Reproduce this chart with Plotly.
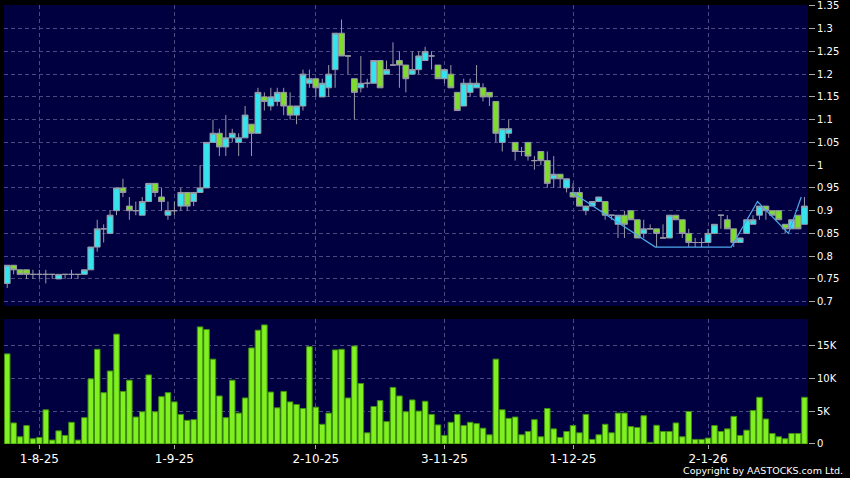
import pandas as pd
import plotly.graph_objects as go

# ---------------- data ----------------
holidays = ["2025-10-01", "2025-10-07", "2025-10-29", "2025-12-25", "2025-12-26", "2026-01-01"]
all_days = pd.bdate_range("2025-07-25", "2026-01-23")
dates = [d.strftime("%Y-%m-%d") for d in all_days if d.strftime("%Y-%m-%d") not in holidays]
idx = list(range(len(dates)))

opens = [0.74, 0.78, 0.77, 0.77, 0.76, 0.76, 0.76, 0.76, 0.75, 0.76,
         0.76, 0.76, 0.76, 0.77, 0.82, 0.86, 0.85, 0.90, 0.95, 0.91,
         0.90, 0.89, 0.92, 0.96, 0.93, 0.89, 0.90, 0.91, 0.94, 0.92,
         0.94, 0.95, 1.05, 1.07, 1.04, 1.06, 1.05, 1.06, 1.09, 1.07,
         1.15, 1.13, 1.14, 1.16, 1.13, 1.11, 1.13, 1.18, 1.19, 1.15,
         1.17, 1.21, 1.29, 1.24, 1.19, 1.17, 1.18, 1.18, 1.23, 1.20,
         1.22, 1.23, 1.22, 1.20, 1.21, 1.23, 1.24, 1.22, 1.19, 1.20,
         1.16, 1.13, 1.16, 1.17, 1.17, 1.16, 1.14, 1.05, 1.07, 1.05,
         1.03, 1.05, 1.01, 1.03, 1.01, 0.97, 0.98, 0.95, 0.94, 0.94,
         0.90, 0.91, 0.92, 0.92, 0.89, 0.87, 0.89, 0.90, 0.88, 0.85,
         0.86, 0.86, 0.84, 0.84, 0.89, 0.88, 0.85, 0.83, 0.83, 0.83,
         0.85, 0.89, 0.88, 0.86, 0.83, 0.85, 0.87, 0.89, 0.91, 0.90,
         0.90, 0.87, 0.86, 0.89, 0.87]
highs = [0.78, 0.78, 0.77, 0.77, 0.77, 0.77, 0.77, 0.76, 0.76, 0.76,
         0.77, 0.76, 0.77, 0.82, 0.88, 0.87, 0.90, 0.95, 0.97, 0.93,
         0.92, 0.93, 0.96, 0.96, 0.95, 0.92, 0.92, 0.95, 0.94, 0.94,
         1.00, 1.05, 1.10, 1.08, 1.11, 1.08, 1.07, 1.13, 1.09, 1.17,
         1.16, 1.17, 1.17, 1.17, 1.16, 1.13, 1.21, 1.21, 1.19, 1.19,
         1.22, 1.29, 1.32, 1.24, 1.19, 1.24, 1.19, 1.23, 1.23, 1.23,
         1.27, 1.25, 1.22, 1.25, 1.25, 1.26, 1.25, 1.22, 1.21, 1.22,
         1.16, 1.19, 1.19, 1.22, 1.18, 1.16, 1.14, 1.08, 1.10, 1.05,
         1.04, 1.05, 1.02, 1.03, 1.03, 1.02, 0.98, 0.97, 0.96, 0.95,
         0.91, 0.92, 0.93, 0.92, 0.89, 0.89, 0.90, 0.90, 0.88, 0.88,
         0.87, 0.86, 0.87, 0.89, 0.89, 0.88, 0.86, 0.84, 0.84, 0.86,
         0.87, 0.89, 0.89, 0.86, 0.84, 0.88, 0.89, 0.91, 0.91, 0.90,
         0.90, 0.87, 0.88, 0.89, 0.93]
lows = [0.73, 0.76, 0.76, 0.75, 0.75, 0.75, 0.74, 0.75, 0.75, 0.75,
        0.75, 0.75, 0.76, 0.77, 0.81, 0.83, 0.85, 0.89, 0.93, 0.88,
        0.89, 0.89, 0.92, 0.93, 0.90, 0.88, 0.89, 0.90, 0.90, 0.91,
        0.94, 0.95, 1.05, 1.02, 1.02, 1.05, 1.02, 1.06, 1.02, 1.07,
        1.12, 1.12, 1.13, 1.11, 1.10, 1.09, 1.12, 1.17, 1.15, 1.15,
        1.15, 1.17, 1.24, 1.20, 1.10, 1.16, 1.17, 1.18, 1.17, 1.20,
        1.22, 1.17, 1.16, 1.20, 1.20, 1.23, 1.21, 1.19, 1.18, 1.17,
        1.12, 1.13, 1.15, 1.17, 1.14, 1.13, 1.05, 1.03, 1.06, 1.01,
        1.02, 1.01, 0.99, 1.00, 0.95, 0.95, 0.95, 0.94, 0.93, 0.91,
        0.89, 0.91, 0.92, 0.88, 0.88, 0.84, 0.84, 0.88, 0.84, 0.84,
        0.86, 0.82, 0.84, 0.84, 0.88, 0.84, 0.82, 0.82, 0.82, 0.83,
        0.85, 0.86, 0.86, 0.82, 0.83, 0.85, 0.87, 0.88, 0.88, 0.89,
        0.88, 0.85, 0.86, 0.86, 0.87]
closes = [0.78, 0.77, 0.76, 0.76, 0.76, 0.76, 0.76, 0.76, 0.76, 0.76,
          0.76, 0.76, 0.77, 0.82, 0.86, 0.86, 0.89, 0.95, 0.94, 0.90,
          0.90, 0.92, 0.96, 0.94, 0.92, 0.90, 0.90, 0.94, 0.91, 0.94,
          0.95, 1.05, 1.07, 1.04, 1.06, 1.07, 1.06, 1.11, 1.07, 1.16,
          1.14, 1.15, 1.16, 1.13, 1.11, 1.13, 1.20, 1.19, 1.17, 1.18,
          1.20, 1.29, 1.24, 1.24, 1.16, 1.18, 1.18, 1.23, 1.17, 1.21,
          1.22, 1.22, 1.19, 1.21, 1.24, 1.25, 1.24, 1.19, 1.21, 1.17,
          1.12, 1.18, 1.18, 1.18, 1.15, 1.15, 1.07, 1.08, 1.08, 1.03,
          1.03, 1.02, 1.01, 1.01, 0.96, 0.98, 0.97, 0.97, 0.93, 0.91,
          0.91, 0.92, 0.93, 0.89, 0.89, 0.89, 0.87, 0.88, 0.84, 0.86,
          0.86, 0.85, 0.84, 0.89, 0.88, 0.85, 0.83, 0.83, 0.83, 0.85,
          0.87, 0.89, 0.86, 0.83, 0.84, 0.88, 0.88, 0.91, 0.90, 0.89,
          0.88, 0.86, 0.88, 0.86, 0.91]
volume_k = [13.7, 3.2, 1.1, 2.8, 0.8, 1.0, 5.2, 0.6, 2.0, 1.3,
            3.3, 0.6, 4.0, 9.9, 14.4, 7.8, 11.1, 16.7, 8.0, 9.7,
            4.1, 4.9, 10.5, 4.9, 7.2, 7.8, 6.4, 4.5, 3.6, 3.7,
            17.8, 17.4, 12.9, 7.3, 4.0, 9.7, 4.7, 7.0, 14.6, 17.3,
            18.1, 7.9, 5.5, 8.0, 6.4, 6.0, 5.4, 14.8, 5.6, 3.0,
            4.7, 14.3, 14.4, 7.0, 14.9, 9.2, 1.7, 5.7, 6.6, 3.4,
            8.6, 7.3, 4.9, 6.7, 5.0, 6.5, 4.5, 2.9, 1.3, 3.3,
            4.5, 2.8, 3.3, 3.1, 2.4, 1.4, 12.9, 5.2, 3.9, 4.1,
            1.4, 1.9, 3.7, 1.1, 5.4, 2.3, 1.0, 1.9, 2.8, 1.7,
            4.5, 0.7, 1.4, 3.0, 1.7, 4.7, 4.7, 2.65, 2.5, 4.3,
            0.25, 2.85, 1.9, 1.9, 3.2, 1.1, 4.95, 0.7, 0.7, 0.9,
            2.8, 1.9, 2.3, 4.2, 1.3, 2.1, 5.1, 7.1, 3.8, 1.6,
            1.1, 0.8, 1.6, 1.6, 7.1]

# zigzag / trend line (bar position, price)
trend_pos = [87.9, 100.8, 112.6, 116.7, 121.5, 123.5]
trend_price = [0.94, 0.82, 0.82, 0.92, 0.85, 0.93]

tick_dates = ["2025-08-01", "2025-09-01", "2025-10-02", "2025-11-03", "2025-12-01", "2026-01-02"]
tick_labels = ["1-8-25", "1-9-25", "2-10-25", "3-11-25", "1-12-25", "2-1-26"]
tick_pos = [dates.index(d) for d in tick_dates]

price_ticks = [0.7, 0.75, 0.8, 0.85, 0.9, 0.95, 1.0, 1.05, 1.1, 1.15, 1.2, 1.25, 1.3, 1.35]
price_tick_labels = ["0.7", "0.75", "0.8", "0.85", "0.9", "0.95", "1", "1.05", "1.1",
                     "1.15", "1.2", "1.25", "1.3", "1.35"]
vol_ticks = [0, 5, 10, 15]
vol_tick_labels = ["0", "5K", "10K", "15K"]

# ---------------- style ----------------
BG = "#000040"
GRID = "#4a4a80"
CYAN = "#33E4EE"
GREEN = "#7EDC2C"
WICK = "#9a9aa6"
VOL = "#80F020"
VOL_LINE = "#3f8f10"
FONT = "DejaVu Sans"

fig = go.Figure()
fig.add_trace(go.Candlestick(
    x=idx, open=opens, high=highs, low=lows, close=closes,
    xaxis="x", yaxis="y",
    increasing=dict(fillcolor=CYAN, line=dict(color=WICK, width=1)),
    decreasing=dict(fillcolor=GREEN, line=dict(color=WICK, width=1)),
    whiskerwidth=0, showlegend=False, hoverinfo="skip",
))
fig.add_trace(go.Scatter(
    x=trend_pos, y=trend_price, mode="lines", xaxis="x", yaxis="y",
    line=dict(color="#4fa8e8", width=1.2), showlegend=False, hoverinfo="skip",
))
fig.add_trace(go.Bar(
    x=idx, y=volume_k, xaxis="x2", yaxis="y2", width=0.86,
    marker=dict(color=VOL, line=dict(color=VOL_LINE, width=1)),
    showlegend=False, hoverinfo="skip",
))

xcommon = dict(
    range=[-0.5, 124.55], tickvals=tick_pos, ticktext=tick_labels,
    showgrid=True, gridcolor=GRID, gridwidth=1, griddash="4px,3px",
    zeroline=False, showline=False, automargin=False,
)
ycommon = dict(
    side="right", showgrid=True, gridcolor=GRID, gridwidth=1, griddash="4px,3px",
    zeroline=False, showline=False, ticks="outside", ticklen=6, tickcolor="#aaaaaa",
    tickfont=dict(family=FONT, size=10, color="white"), automargin=False,
)

fig.update_layout(
    width=850, height=478, autosize=False,
    margin=dict(l=4, r=42, t=5, b=34, pad=0),
    paper_bgcolor="black", plot_bgcolor=BG,
    boxgap=0.05, boxgroupgap=0.05, bargap=0,
    xaxis=dict(**xcommon, domain=[0, 1], anchor="y", showticklabels=False,
               rangeslider=dict(visible=False)),
    xaxis2=dict(**xcommon, domain=[0, 1], anchor="y2", matches="x",
                ticks="outside", ticklen=4, tickcolor="#aaaaaa",
                tickfont=dict(family=FONT, size=12, color="white")),
    yaxis=dict(**ycommon, domain=[0.3144, 1], range=[0.6905, 1.352],
               tickvals=price_ticks, ticktext=price_tick_labels, anchor="x"),
    yaxis2=dict(**ycommon, domain=[0, 0.2847], range=[0, 19.0],
                tickvals=vol_ticks, ticktext=vol_tick_labels, anchor="x2"),
    annotations=[dict(
        text="Copyright by AASTOCKS.com Ltd.", xref="paper", yref="paper",
        x=1.046, y=-0.0615, xanchor="right", yanchor="middle", showarrow=False,
        font=dict(family=FONT, size=9.5, color="white"),
    )],
)

fig.write_html(
    "out.html",
    config={"displayModeBar": False, "staticPlot": True},
    post_script="document.body.style.margin='0';document.body.style.background='black';",
)
